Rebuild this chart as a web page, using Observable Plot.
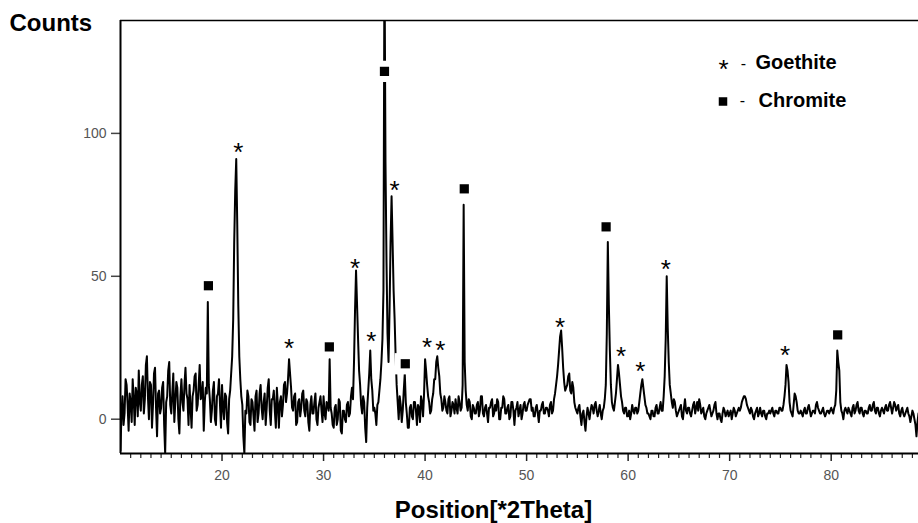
<!DOCTYPE html>
<html><head><meta charset="utf-8">
<script src="https://cdn.jsdelivr.net/npm/d3@7"></script>
<script src="https://cdn.jsdelivr.net/npm/@observablehq/plot@0.6"></script>
<style>
html,body{margin:0;padding:0;background:#fff;}
#chart{width:918px;height:523px;position:relative;}
#chart svg{position:absolute;left:0;top:0;}
</style></head><body><div id="chart"></div>
<script>
// XRD scan: start angle and step (°2θ), counts (one row per degree)
const scanStart = 10;
const scanStep = 0.1;
const counts = [
  -11, 3, 8, -2, 2, 14, 12, 5, -4, 9,
  6, -1, 14, 7, -2, 11, 9, 1, 17, 6,
  3, 12, 15, 2, 7, 19, 22, 8, 0, 13,
  12, -3, 5, 16, 18, 4, -6, 9, 10, 2,
  4, 11, 13, -2, -12, 6, 8, 17, 20, 5,
  2, 9, 16, -1, 6, 13, 11, 0, -5, 8,
  14, 6, 3, 12, 18, 9, 7, -2, 12, 4,
  -3, 8, 10, 15, 16, 3, 5, 12, 19, 7,
  8, 13, -4, 6, 11, 9, 41, 12, 7, -1,
  3, 10, 13, 0, -2, 8, 9, 14, 5, -3,
  12, 4, 0, 9, 8, -1, -5, 7, 10, 16,
  22, 35, 62, 80, 91, 68, 40, 22, 14, 8,
  5, -6, -12, 3, 2, 10, 8, -1, -2, 7,
  6, 1, -4, 8, 10, -1, 2, 9, 12, 4,
  0, 6, 9, -2, 4, 11, 14, 3, -2, 7,
  7, 10, 3, -3, 11, 5, -3, 6, 8, 1,
  5, 12, 13, 6, 9, 14, 21, 16, 11, 4,
  3, 8, 9, -2, -1, 6, 7, 1, 4, 9,
  10, 3, 1, 7, 6, -1, -4, 5, 8, 2,
  2, 6, 9, 0, -2, 4, 6, 8, 3, -1,
  8, 2, 0, 6, 5, 3, 21, 4, 2, -2,
  -3, 4, 5, -2, 0, 7, 6, -4, -5, 3,
  3, 0, -1, 5, 6, 1, 2, 8, 11, 7,
  20, 38, 52, 40, 28, 17, 12, 5, 2, 8,
  6, -3, -8, 4, 10, 16, 24, 14, 10, 3,
  4, 2, -2, 5, 6, 10, 14, 20, 28, 45,
  165, 90, 55, 30, 20, 38, 62, 78, 62, 45,
  35, 22, 12, 6, 0, 8, 5, -1, 3, 10,
  16, 6, 2, -3, -3, 4, 5, 1, 0, 6,
  6, 3, -2, 5, 4, -1, 8, 6, 1, 9,
  21, 17, 12, 8, 6, 2, 3, 7, 9, 14,
  14, 20, 22, 18, 15, 9, 7, 3, 4, 8,
  6, 3, 2, 7, 8, 1, 3, 6, 5, 2,
  7, 4, 2, 8, 6, 3, 4, 12, 75, 20,
  10, 5, 3, 7, 6, 1, 0, 5, 4, 2,
  2, 5, 6, 1, 3, 8, 8, 2, 1, 4,
  5, 2, -1, 4, 4, 6, 7, 1, 2, 5,
  3, 7, 6, 0, 0, 4, 4, 8, 7, 2,
  2, 4, 5, 0, 1, 6, 6, 3, -2, 3,
  4, 6, 1, 3, 5, 0, 2, 5, 6, 3,
  3, 5, 6, 7, 7, 3, 4, 1, 1, 4,
  5, 2, -1, 3, 3, 5, 6, 2, 2, 4,
  4, 3, 1, 5, 6, 2, 3, 7, 9, 12,
  15, 19, 24, 29, 31, 25, 18, 13, 10, 11,
  12, 15, 16, 10, 9, 13, 11, 6, 4, 3,
  2, 4, 5, 1, -2, 2, 3, -1, -4, 1,
  4, 2, 0, 3, 5, 4, 2, 5, 6, 3,
  1, 3, 5, 2, 0, 3, 4, 7, 12, 30,
  62, 40, 24, 12, 6, 4, 3, 6, 9, 14,
  19, 16, 12, 8, 6, 3, 2, 4, 4, 1,
  1, 3, 0, 2, 5, 3, 2, 4, 4, 2,
  3, 6, 9, 12, 14, 11, 8, 5, 4, 2,
  2, 1, 0, 3, 3, 1, 1, 4, 5, 2,
  2, 4, 6, 3, 3, 8, 15, 28, 50, 32,
  20, 12, 9, 6, 4, 7, 6, 3, 1, 2,
  3, 4, 5, 1, 0, 4, 7, 3, 2, 4,
  4, 2, 1, 3, 5, 6, 2, 4, 6, 3,
  7, 5, 2, 3, 4, 1, 0, 2, 3, 4,
  5, 3, 1, 2, 3, 5, 6, 2, 0, 2,
  2, 0, -1, 2, 4, 3, 1, 2, 3, 1,
  2, 3, 0, 2, 4, 3, 1, 2, 3, 4,
  3, 4, 6, 7, 8, 8, 7, 5, 4, 3,
  2, 4, 3, 1, 0, 2, 3, 4, 1, 2,
  4, 2, 1, 3, 3, 1, 0, 2, 2, 3,
  2, 3, 4, 2, 1, 3, 3, 2, 2, 4,
  4, 3, 3, 5, 8, 12, 19, 17, 13, 6,
  3, 2, 1, 5, 9, 8, 6, 3, 2, 2,
  3, 2, 1, 3, 4, 2, 2, 4, 5, 3,
  1, 2, 3, 3, 2, 5, 6, 4, 3, 2,
  2, 3, 4, 2, 1, 2, 3, 3, 2, 3,
  4, 3, 2, 4, 5, 10, 24, 20, 17, 6,
  3, 2, 0, 3, 4, 3, 2, 4, 3, 2,
  1, 4, 5, 2, 3, 5, 6, 3, 2, 4,
  4, 2, 1, 3, 3, 2, 2, 4, 5, 3,
  3, 5, 6, 3, 2, 4, 4, 2, 1, 3,
  4, 3, 2, 4, 5, 3, 3, 5, 6, 4,
  2, 4, 6, 5, 3, 4, 5, 2, 1, 3,
  4, 2, 1, 2, 3, 4, 2, 1, -1, 1,
  3, 2, 0, -2, -6, -1, 2
];

const xDomain = [10, 88.6];
const yDomain = [-12, 139.5];
const xTickValues = [20, 30, 40, 50, 60, 70, 80];
const xMinorTickValues = [11,12,13,14,15,16,17,18,19,21,22,23,24,25,26,27,28,29,31,32,33,34,35,36,37,38,39,
  41,42,43,44,45,46,47,48,49,51,52,53,54,55,56,57,58,59,61,62,63,64,65,66,67,68,69,71,72,73,74,75,76,77,78,79,
  81,82,83,84,85,86,87,88];
const yTickValues = [0, 50, 100];

// phase labels: position (°2θ) and height (counts) of each marker
const goethiteLabelTheta  = [21.6, 26.6, 33.1, 34.7, 37.0, 40.2, 41.5, 53.3, 59.3, 61.2, 63.7, 75.45];
const goethiteLabelCounts = [95.4, 26.8, 55, 29.5, 82.4, 27.4, 26.4, 34.4, 24.3, 19, 54.5, 24.6];
const chromiteLabelTheta  = [18.66, 30.57, 36.0, 38.05, 43.86, 57.83, 80.64];
const chromiteLabelCounts = [46.7, 25.3, 121.7, 19.4, 80.6, 67.3, 29.5];

const phaseNames = ["Goethite", "Chromite"];
const yTitle = "Counts";
const xTitle = "Position[*2Theta]";

const scan = counts.map((c, i) => ({theta: +(scanStart + i * scanStep).toFixed(2), counts: c}));
const goethite = goethiteLabelTheta.map((t, i) => ({theta: t, counts: goethiteLabelCounts[i]}));
const chromite = chromiteLabelTheta.map((t, i) => ({theta: t, counts: chromiteLabelCounts[i]}));

// layout
const W = 918, H = 523, mL = 120, mR = 0, mT = 20, mB = 70;
const pxPerCountY = (H - mT - mB) / (yDomain[1] - yDomain[0]);
const pxPerThetaX = (W - mL - mR) / (xDomain[1] - xDomain[0]);
const minorLen = 5 / pxPerCountY, majorLen = 8 / pxPerCountY, yTickLen = 9 / pxPerThetaX;

const font = "'Liberation Sans', Arial, Helvetica, sans-serif";
const frame = {width: W, height: H, marginLeft: mL, marginRight: mR, marginTop: mT, marginBottom: mB};

// layer 1: axes, ticks, frame lines
const axesLayer = Plot.plot({
  ...frame,
  style: {fontFamily: font, background: "#fff", color: "#000"},
  x: {domain: xDomain, label: null},
  y: {domain: yDomain, label: null},
  marks: [
    Plot.axisX({ticks: xTickValues, tickSize: 0, tickPadding: 17, fontSize: 14, fill: "#555", label: null}),
    Plot.axisY({ticks: yTickValues, tickSize: 0, tickPadding: 14, fontSize: 14, fill: "#555", label: null}),
    Plot.ruleX(xMinorTickValues, {x: d => d, y1: yDomain[0], y2: yDomain[0] - minorLen, stroke: "#222", strokeWidth: 1.2}),
    Plot.ruleX(xTickValues, {x: d => d, y1: yDomain[0], y2: yDomain[0] - majorLen, stroke: "#222", strokeWidth: 1.5}),
    Plot.ruleY(yTickValues, {y: d => d, x1: xDomain[0] - yTickLen, x2: xDomain[0], stroke: "#444", strokeWidth: 1.5}),
    Plot.ruleY([yDomain[0]], {stroke: "#000", strokeWidth: 2}),
    Plot.ruleY([yDomain[1]], {stroke: "#000", strokeWidth: 1.5}),
    Plot.ruleX([xDomain[0]], {stroke: "#000", strokeWidth: 2})
  ]
});

// layer 2: scan, phase markers, titles and legend (transparent, on top)
const dataLayer = Plot.plot({
  ...frame,
  style: {fontFamily: font, background: "none", color: "#000"},
  x: {domain: xDomain, axis: null},
  y: {domain: yDomain, axis: null},
  marks: [
    Plot.lineY(scan, {x: "theta", y: "counts", stroke: "#000", strokeWidth: 2, clip: true}),
    Plot.dot(chromite, {x: "theta", y: "counts", symbol: "square", r: 12, fill: "#fff", stroke: null}),
    Plot.dot(chromite, {x: "theta", y: "counts", symbol: "square", r: 5.2, fill: "#000", stroke: null}),
    Plot.text(goethite, {x: "theta", y: "counts", text: () => "*", fontSize: 26, dy: 6.5, fill: "#000"}),
    Plot.text([yTitle], {frameAnchor: "top-left", dx: -111, dy: 10, textAnchor: "start", lineAnchor: "bottom",
      fontSize: 24, fontWeight: "bold", fill: "#000"}),
    Plot.text([xTitle], {frameAnchor: "bottom-left", dx: 373, dy: 64, textAnchor: "middle", lineAnchor: "bottom",
      fontSize: 24, fontWeight: "bold", fill: "#000"}),
    Plot.text(["*"], {frameAnchor: "top-left", dx: 603, dy: 49.5, textAnchor: "middle", lineAnchor: "middle", fontSize: 26, fill: "#000"}),
    Plot.text(["-"], {frameAnchor: "top-left", dx: 623, dy: 43, textAnchor: "middle", lineAnchor: "middle", fontSize: 16, fill: "#000"}),
    Plot.text([phaseNames[0]], {frameAnchor: "top-left", dx: 635, dy: 48, textAnchor: "start", lineAnchor: "bottom",
      fontSize: 20, fontWeight: "bold", fill: "#000"}),
    Plot.dot([phaseNames[1]], {frameAnchor: "top-left", dx: 602.5, dy: 81, symbol: "square", r: 4.8, fill: "#000", stroke: null}),
    Plot.text(["-"], {frameAnchor: "top-left", dx: 622, dy: 80, textAnchor: "middle", lineAnchor: "middle", fontSize: 16, fill: "#000"}),
    Plot.text([phaseNames[1]], {frameAnchor: "top-left", dx: 638, dy: 86, textAnchor: "start", lineAnchor: "bottom",
      fontSize: 20, fontWeight: "bold", fill: "#000"})
  ]
});

const host = document.getElementById("chart");
host.appendChild(axesLayer);
host.appendChild(dataLayer);
</script>
</body></html>
